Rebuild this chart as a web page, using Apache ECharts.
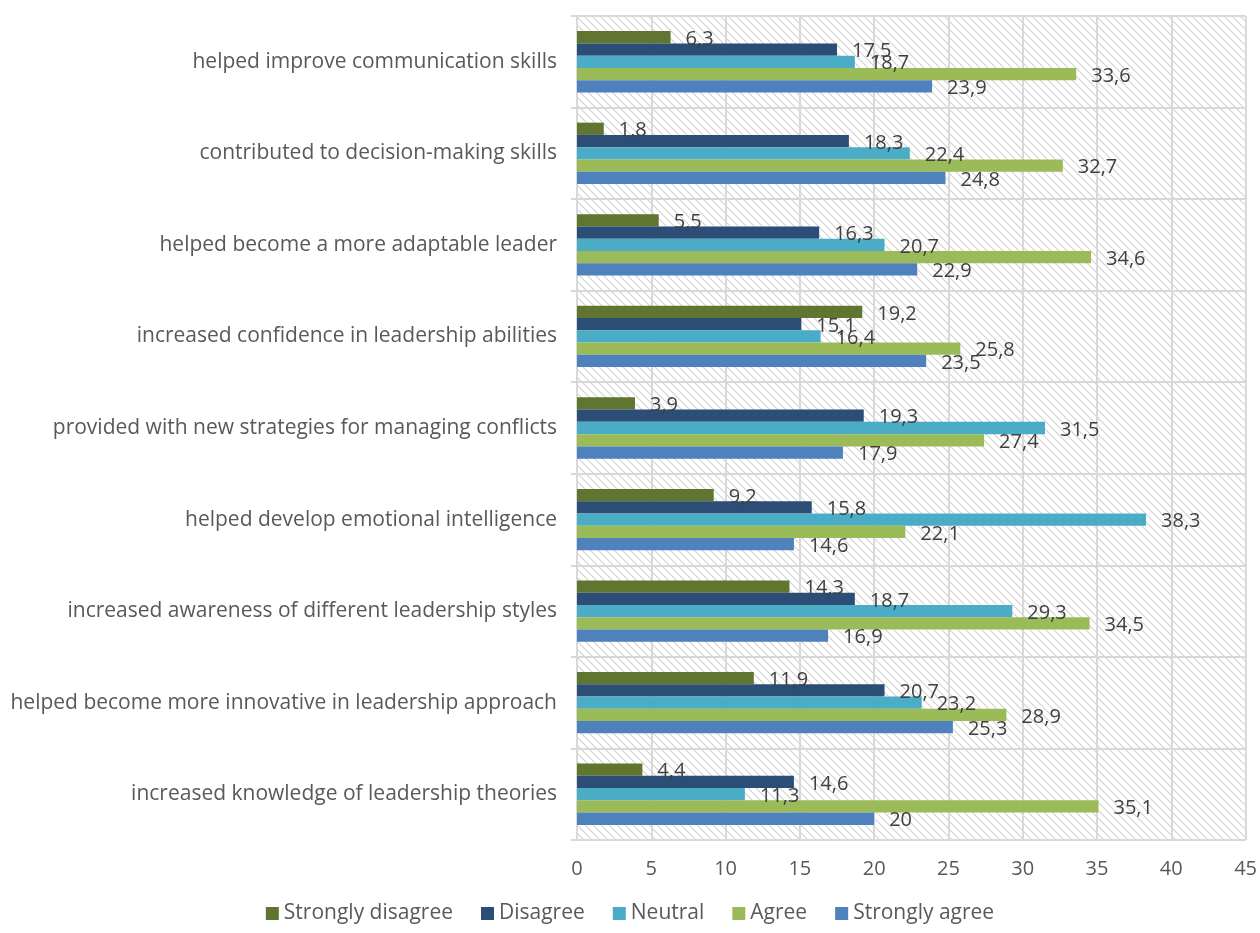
<!DOCTYPE html>
<html><head><meta charset="utf-8">
<script src="https://cdn.jsdelivr.net/npm/echarts@6/dist/echarts.min.js"></script>
<style>html,body{margin:0;padding:0;background:#fff}#c{width:1260px;height:933px}</style>
</head><body><div id="c"></div>
<script>
const categories = [
  "helped improve communication skills",
  "contributed to decision-making skills",
  "helped become a more adaptable leader",
  "increased confidence in leadership abilities",
  "provided with new strategies for managing conflicts",
  "helped develop emotional intelligence",
  "increased awareness of different leadership styles",
  "helped become more innovative in leadership approach",
  "increased knowledge of leadership theories"
];
const stronglyDisagree = [6.3, 1.8, 5.5, 19.2, 3.9, 9.2, 14.3, 11.9, 4.4];
const disagree = [17.5, 18.3, 16.3, 15.1, 19.3, 15.8, 18.7, 20.7, 14.6];
const neutral = [18.7, 22.4, 20.7, 16.4, 31.5, 38.3, 29.3, 23.2, 11.3];
const agree = [33.6, 32.7, 34.6, 25.8, 27.4, 22.1, 34.5, 28.9, 35.1];
const stronglyAgree = [23.9, 24.8, 22.9, 23.5, 17.9, 14.6, 16.9, 25.3, 20];
const seriesNames = ["Strongly disagree", "Disagree", "Neutral", "Agree", "Strongly agree"];
const xTicks = [0, 5, 10, 15, 20, 25, 30, 35, 40, 45];

const colors = {"Strongly disagree":"#5F7530","Disagree":"#2C4D75","Neutral":"#4BACC6","Agree":"#9BBB59","Strongly agree":"#4F81BD"};
const valuesByName = {"Strongly disagree":stronglyDisagree,"Disagree":disagree,"Neutral":neutral,"Agree":agree,"Strongly agree":stronglyAgree};

// hatch pattern
const pc = document.createElement('canvas');
pc.width = 8; pc.height = 8;
const g = pc.getContext('2d');
g.fillStyle = '#ffffff'; g.fillRect(0,0,8,8);
g.strokeStyle = '#d2d2d2'; g.lineWidth = 1.1;
g.beginPath();
g.moveTo(-2,-2); g.lineTo(10,10);
g.moveTo(-2,6); g.lineTo(2,10);
g.moveTo(6,-2); g.lineTo(10,2);
g.stroke();

const FONT = '"Open Sans", Lato, sans-serif';

const chart = echarts.init(document.getElementById('c'));
chart.setOption({
  animation: false,
  textStyle: {fontFamily: FONT},
  legend: {
    data: seriesNames, bottom: 4, left: 'center', icon: 'rect', itemWidth: 13, itemHeight: 13, itemGap: 28,
    textStyle: {fontSize: 21, color: '#595959', fontFamily: FONT}
  },
  grid: {left: 577, right: 13, top: 16, bottom: 93, show: true, borderWidth: 0,
         backgroundColor: {image: pc, repeat: 'repeat'}},
  xAxis: {
    type: 'value', min: 0, max: 45, interval: 5,
    axisLine: {show: false}, axisTick: {show: false},
    splitLine: {show: true, lineStyle: {color: '#d9d9d9', width: 2}},
    axisLabel: {fontSize: 20, color: '#595959', margin: 19, fontFamily: FONT,
      customValues: xTicks}
  },
  yAxis: {
    type: 'category', data: categories, inverse: true,
    axisLine: {show: true, lineStyle: {color: '#d9d9d9', width: 2}},
    axisTick: {show: true, length: 6, lineStyle: {color: '#d9d9d9', width: 2}},
    splitLine: {show: true, lineStyle: {color: '#d9d9d9', width: 2}},
    axisLabel: {fontSize: 21, color: '#595959', margin: 20, fontFamily: FONT}
  },
  series: seriesNames.map(n => ({
    name: n, type: 'bar', data: valuesByName[n],
    barGap: '0%', barCategoryGap: '33%',
    itemStyle: {color: colors[n]},
    label: {show: true, position: 'right', distance: 15, offset: [0, 2], fontSize: 20, color: '#404040', fontFamily: FONT,
      formatter: p => String(p.value).replace('.', ',')}
  }))
});
</script></body></html>
